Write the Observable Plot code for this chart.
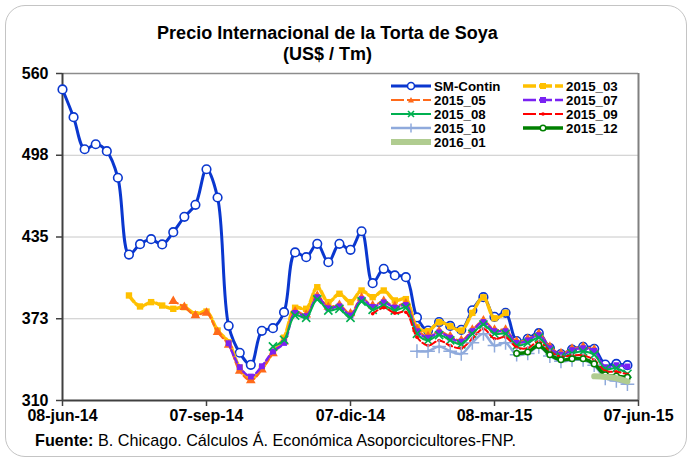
<!DOCTYPE html>
<html><head><meta charset="utf-8">
<script src="https://cdn.jsdelivr.net/npm/d3@7"></script>
<script src="https://cdn.jsdelivr.net/npm/@observablehq/plot@0.6"></script>
<style>
body{margin:0;background:#fff;font-family:"Liberation Sans",Arial,sans-serif;}
#wrap{position:relative;width:693px;height:461px;overflow:hidden;background:#fff;}
#frame{position:absolute;left:5px;top:5px;width:682px;height:452px;border:1.5px solid #c4c4c4;border-radius:20px;box-sizing:border-box;}
#chart{position:absolute;left:0;top:0;}
.title{position:absolute;left:0;width:655px;text-align:center;font-weight:bold;font-size:18px;line-height:20px;color:#000;}
#foot{position:absolute;left:35px;top:431px;font-size:16.2px;color:#000;white-space:nowrap;}
#legend{position:absolute;left:0;top:0;}
.li{position:absolute;height:14px;display:flex;align-items:center;font-weight:bold;font-size:13.3px;white-space:nowrap;}
.li svg{margin-right:3px;overflow:visible;}
</style></head>
<body><div id="wrap">
<div id="frame"></div>
<div id="chart"></div>
<div class="title" style="top:23px">Precio Internacional de la Torta de Soya</div>
<div class="title" style="top:44px">(US$ / Tm)</div>
<div id="legend"></div>
<div id="foot"><b>Fuente:</b> B. Chicago. Cálculos Á. Económica Asoporcicultores-FNP.</div>
</div>
<script>
// ---- data (weekly observations starting 08-jun-14) ----
const firstWeek = "2014-06-08";
const xTickDates = ["2014-06-08","2014-09-07","2014-12-07","2015-03-08","2015-06-07"];
const xTickLabels = ["08-jun-14","07-sep-14","07-dic-14","08-mar-15","07-jun-15"];
const yTicks = [310, 372.5, 435, 497.5, 560];
const yTickLabels = ["310","373","435","498","560"];

const smContin = [547.8,526.6,502.1,505.9,500.6,480.3,421.6,429.5,433.3,429.3,438.7,450.4,459.6,486.8,465.2,367.1,346.5,337.3,363.3,365.3,377.5,423.2,419.6,429.8,415.7,429.8,425.2,439.4,399.7,410.7,405.6,404.3,373.5,363.5,370,367,364,379,389,374,377,355.4,357.2,361.5,350,345.5,349,351,349.5,337.5,338,337];
const s2015_03Start = 6;
const s2015_03 = [390.3,381.9,385.2,382.6,380.1,381.4,376,378,363.5,354.5,335,326.5,334.5,347,358,380.9,380.1,396.6,385.2,391.6,385.2,394.1,389,394.1,386.5,387.5,366,363,369.9,366.8,363.5,377,388.9,372.9,377];
const s2015_05Start = 10;
const s2015_05 = [385.9,381.4,375,377,362.2,352.5,332.5,325.3,333.5,346,355,378,375.5,390,381.5,383,376.5,388.5,382.5,386,382,384,364.5,359,363,359,356,364,371,364,364,355,357,361,351,346,349.5,351,349];
const s2015_07Start = 15;
const s2015_07 = [353.8,335.5,328.3,336.2,347.5,354,377,374.5,389,380.5,382,375,387.5,381.5,385,381,383,363,358,362,358,355,363,370,363,363,354,356,360,350,345,348.5,350,348,335.5,337,336];
const s2015_08Start = 19;
const s2015_08 = [351.3,356.4,375,373.2,387.2,378.8,380.1,373.2,385.7,379.4,382.6,378.8,380.9,361,356,360,356,353,361,368,361,361,352,354,358,348,343.5,346,347.5,345,334.2,334.7,330.4];
const s2015_09Start = 28;
const s2015_09 = [376.3,381,376.8,377.5,358.4,352,355.9,352,350,357.2,364.8,357.2,358.4,350.7,350,355,347.5,343.5,344.5,344.5,341,332.5,332,330];
const s2015_10Start = 32;
const s2015_10 = [347.7,347.7,351.3,347.7,345.7,354.1,361,352,354.1,345,346,351,344,340,341,341,337,327,325,322.5];
const s2015_12Start = 41;
const s2015_12 = [346,347.1,352.1,345,341.1,341.9,341.9,338,329.6,328.6,327.8];
const s2016_01Start = 48;
const s2016_01 = [328.5,328,327,324.5];

// ---- build table ----
const t0 = new Date(firstWeek + "T00:00:00Z");
const wk = i => new Date(t0.getTime() + i * 7 * 864e5);
const series = [
  {name:"SM-Contin", start:0, values:smContin, color:"#0a37cf", w:3, dash:null, symbol:"circle", r:4.3, fill:"white", mstroke:"#0a37cf", msw:1.6},
  {name:"2015_03", start:s2015_03Start, values:s2015_03, color:"#ffc000", w:3.5, dash:"8,3", symbol:"square", r:3.6, fill:"#ffc000", mstroke:"none", msw:0},
  {name:"2015_05", start:s2015_05Start, values:s2015_05, color:"#ff6a1a", w:2, dash:"5,3", symbol:"triangle", r:3.6, fill:"#ff6a1a", mstroke:"none", msw:0},
  {name:"2015_07", start:s2015_07Start, values:s2015_07, color:"#7a22f2", w:2.5, dash:"5,3", symbol:"square", r:3.3, fill:"#7a22f2", mstroke:"none", msw:0},
  {name:"2015_08", start:s2015_08Start, values:s2015_08, color:"#00b050", w:2, dash:null, symbol:"times", r:3.8, fill:"none", mstroke:"#00b050", msw:1.6},
  {name:"2015_09", start:s2015_09Start, values:s2015_09, color:"#ff0000", w:2, dash:"6,3", symbol:"circle", r:1.8, fill:"#ff0000", mstroke:"none", msw:0},
  {name:"2015_10", start:s2015_10Start, values:s2015_10, color:"#8faadc", w:2.5, dash:null, symbol:"plus", r:4.5, fill:"none", mstroke:"#8faadc", msw:1.5},
  {name:"2015_12", start:s2015_12Start, values:s2015_12, color:"#008000", w:3.5, dash:null, symbol:"circle", r:2.8, fill:"white", mstroke:"#008000", msw:1.5},
  {name:"2016_01", start:s2016_01Start, values:s2016_01, color:"#b0cc90", w:6, dash:null, symbol:null}
];
series.forEach(s => { s.data = s.values.map((v, i) => ({date: wk(s.start + i), value: v})); });

const xTicks = xTickDates.map(d => new Date(d + "T00:00:00Z"));
const marks = [
  Plot.gridY(yTicks, {stroke:"#c8c8c8", strokeOpacity:1, strokeWidth:1}),
  Plot.ruleY([yTicks[yTicks.length-1]], {stroke:"#8c8c8c", strokeWidth:1.5}),
  Plot.ruleX([xTicks[xTicks.length-1]], {stroke:"#808080", strokeWidth:2}),
  Plot.axisY(yTicks, {label:null, tickSize:6, tickPadding:8, tickFormat:(d,i)=>yTickLabels[i], fontSize:16, fontWeight:"bold", stroke:"#404040", strokeWidth:1.5}),
  Plot.axisX(xTicks, {label:null, tickSize:6, tickPadding:3, tickFormat:(d,i)=>xTickLabels[i], fontSize:16, fontWeight:"bold", stroke:"#404040", strokeWidth:1.5}),
  Plot.ruleX([xTicks[0]], {stroke:"#404040", strokeWidth:2}),
  Plot.ruleY([yTicks[0]], {stroke:"#404040", strokeWidth:2})
];
for (const s of series) {
  marks.push(Plot.line(s.data, {x:"date", y:"value", stroke:s.color, strokeWidth:s.w, strokeDasharray:s.dash, curve:"catmull-rom"}));
  if (s.symbol) marks.push(Plot.dot(s.data, {x:"date", y:"value", symbol:s.symbol, r:s.r, fill:s.fill, stroke:s.mstroke, strokeWidth:s.msw}));
}
const chart = Plot.plot({
  width:693, height:461, marginLeft:62, marginRight:55, marginTop:73, marginBottom:61,
  x:{type:"utc", domain:[xTicks[0], xTicks[xTicks.length-1]], label:null},
  y:{domain:[yTicks[0], yTicks[yTicks.length-1]], label:null},
  style:{fontFamily:'"Liberation Sans", Arial, sans-serif', color:"#000", background:"transparent", overflow:"visible"},
  marks
});
document.getElementById("chart").appendChild(chart);

// ---- legend ----
const legend = document.getElementById("legend");
const pos = [[391,86],[523,86],[391,100],[523,100],[391,114],[523,114],[391,128],[523,128],[391,142]];
series.forEach((s, k) => {
  const [lx, ly] = pos[k];
  const d = document.createElement("div");
  d.className = "li";
  d.style.left = lx + "px"; d.style.top = (ly - 7) + "px";
  let m = "";
  if (s.symbol === "circle") m = `<circle cx="20" cy="5" r="${Math.min(s.r,3.5)}" fill="${s.fill}" stroke="${s.mstroke}" stroke-width="${s.msw||0}"/>`;
  else if (s.symbol === "square") m = `<rect x="17" y="2" width="6" height="6" fill="${s.fill}"/>`;
  else if (s.symbol === "triangle") m = `<path d="M20,2 L23,7.5 L17,7.5Z" fill="${s.fill}"/>`;
  else if (s.symbol === "times") m = `<path d="M17,2L23,8M23,2L17,8" stroke="${s.mstroke}" stroke-width="1.6"/>`;
  else if (s.symbol === "plus") m = `<path d="M20,0.5V9.5" stroke="${s.mstroke}" stroke-width="1.5"/>`;
  d.innerHTML = `<svg width="40" height="10"><line x1="0" y1="5" x2="40" y2="5" stroke="${s.color}" stroke-width="${s.w}" ${s.dash ? `stroke-dasharray="13,3"` : ""}/>${m}</svg><span>${s.name}</span>`;
  legend.appendChild(d);
});
</script>
</body></html>
